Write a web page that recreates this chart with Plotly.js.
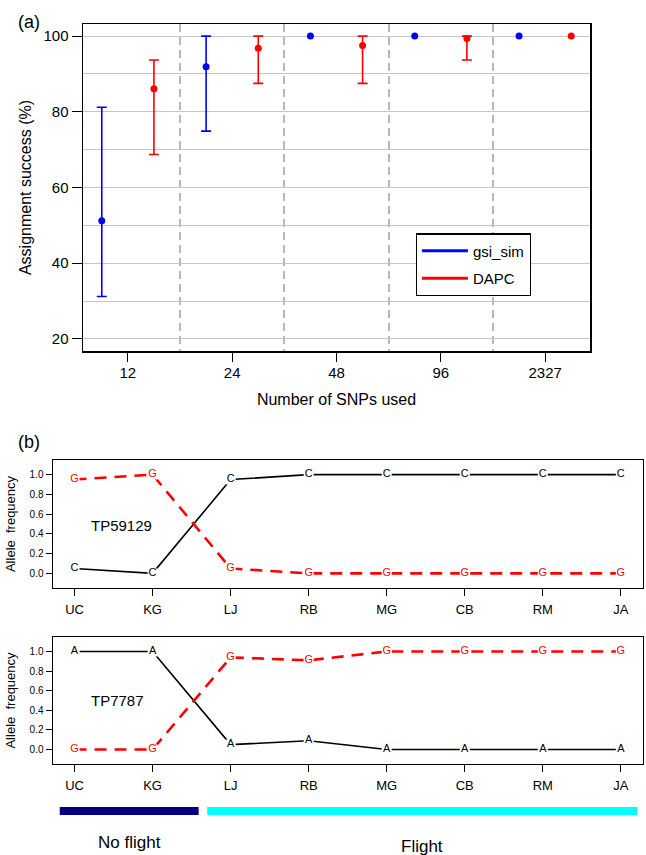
<!DOCTYPE html>
<html>
<head>
<meta charset="utf-8">
<script src="https://cdn.plot.ly/plotly-3.0.1.min.js"></script>
<style>html,body{margin:0;padding:0;background:#fff;}#chart{width:646px;height:855px;}</style>
</head>
<body>
<div id="chart"></div>
<script>
// ---------- Panel (a) data ----------
const snpCounts = ['12', '24', '48', '96', '2327'];
const gsiMean = [51.2, 91.9, 100, 100, 100];
const gsiLow  = [31.2, 74.9, 100, 100, 100];
const gsiHigh = [81.2, 100, 100, 100, 100];
const dapcMean = [86.1, 96.8, 97.5, 99.4, 100];
const dapcLow  = [68.7, 87.5, 87.5, 93.7, 100];
const dapcHigh = [93.7, 100, 100, 100, 100];

// ---------- Panel (b) data ----------
const populations = ['UC', 'KG', 'LJ', 'RB', 'MG', 'CB', 'RM', 'JA'];
const tp59129_C = [0.05, 0.00, 0.95, 1.00, 1.00, 1.00, 1.00, 1.00];
const tp59129_G = [0.95, 1.00, 0.05, 0.00, 0.00, 0.00, 0.00, 0.00];
const tp7787_A  = [1.00, 1.00, 0.05, 0.09, 0.00, 0.00, 0.00, 0.00];
const tp7787_G  = [0.00, 0.00, 0.94, 0.91, 1.00, 1.00, 1.00, 1.00];
const flightGroups = ['No flight', 'Flight'];
const groupMembers = [['UC', 'KG'], ['LJ', 'RB', 'MG', 'CB', 'RM', 'JA']];

const FONT = 'Liberation Sans, Arial, Helvetica, sans-serif';
const W = 646, H = 855;
const px = v => v / W;
const py = v => 1 - v / H;

function errs(mean, lo, hi) {
  const plus = mean.map((m, i) => (hi[i] - m) > 0 ? hi[i] - m : NaN);
  const minus = mean.map((m, i) => (m - lo[i]) > 0 ? m - lo[i] : NaN);
  return {plus, minus};
}
const xIdx = snpCounts.map((_, i) => i + 1);
const ge = errs(gsiMean, gsiLow, gsiHigh);
const de = errs(dapcMean, dapcLow, dapcHigh);

const traces = [];
traces.push({
  x: xIdx.map(v => v - 0.25), y: gsiMean, mode: 'markers', type: 'scatter',
  marker: {color: '#0000FF', size: 7}, showlegend: false, xaxis: 'x', yaxis: 'y',
  error_y: {type: 'data', array: ge.plus, arrayminus: ge.minus, symmetric: false, color: '#0000FF', thickness: 1.6, width: 5}
});
traces.push({
  x: xIdx.map(v => v + 0.25), y: dapcMean, mode: 'markers', type: 'scatter',
  marker: {color: '#FF0000', size: 7}, showlegend: false, xaxis: 'x', yaxis: 'y',
  error_y: {type: 'data', array: de.plus, arrayminus: de.minus, symmetric: false, color: '#FF0000', thickness: 1.6, width: 5}
});
// legend entries
traces.push({x: [null], y: [null], mode: 'lines', name: 'gsi_sim', line: {color: '#0000FF', width: 3}, xaxis: 'x', yaxis: 'y', legendgroup: 'g1'});
traces.push({x: [null], y: [null], mode: 'lines', name: 'DAPC', line: {color: '#FF0000', width: 3}, xaxis: 'x', yaxis: 'y', legendgroup: 'g2'});

function alleleTrace(vals, letter, color, dash, width, xa, ya) {
  return {
    x: populations, y: vals, type: 'scatter', mode: 'lines+markers+text',
    text: vals.map(() => letter), textposition: 'middle center',
    textfont: {family: FONT, size: 11, color: color},
    marker: {symbol: 'square', size: 10, color: '#FFFFFF', line: {width: 0}},
    line: {color: color, width: width, dash: dash},
    showlegend: false, xaxis: xa, yaxis: ya, hoverinfo: 'x+y'
  };
}
traces.push(alleleTrace(tp59129_C, 'C', '#000000', 'solid', 1.6, 'x2', 'y2'));
traces.push(alleleTrace(tp59129_G, 'G', '#FF0000', '12px,8px', 2.6, 'x2', 'y2'));
traces.push(alleleTrace(tp7787_A, 'A', '#000000', 'solid', 1.6, 'x3', 'y3'));
traces.push(alleleTrace(tp7787_G, 'G', '#FF0000', '12px,8px', 2.6, 'x3', 'y3'));

const bTicks = [0, 0.2, 0.4, 0.6, 0.8, 1.0];
function bX(domainTop, domainBottom, anchor) {
  return {
    domain: [px(52.7), px(642.7)], anchor: anchor, type: 'category',
    range: [-0.28, 7.28], showgrid: false, zeroline: false,
    showline: true, mirror: true, linecolor: '#000', linewidth: 1.2,
    ticks: 'outside', ticklen: 7, tickcolor: '#000', tickwidth: 1,
    tickfont: {family: FONT, size: 13, color: '#000'}, ticklabelstandoff: 2
  };
}
function bY(top, bottom, anchor) {
  return {
    domain: [py(bottom), py(top)], anchor: anchor,
    range: [-0.148, 1.148], tickvals: bTicks, ticktext: bTicks.map(v => v.toFixed(1)),
    showgrid: false, zeroline: false,
    showline: true, mirror: true, linecolor: '#000', linewidth: 1.2,
    ticks: 'outside', ticklen: 6, tickcolor: '#000', tickwidth: 1,
    tickfont: {family: FONT, size: 10, color: '#000'},
    title: {text: 'Allele\u00a0\u00a0frequency', font: {family: FONT, size: 13, color: '#000'}, standoff: 11}
  };
}

// flight group bars
const padL = [0.19, 0.30], padR = [0.59, 0.21];
const groupColors = ['#000080', '#00FFFF'];
const shapes = [];
const annotations = [];
flightGroups.forEach((g, k) => {
  const i0 = populations.indexOf(groupMembers[k][0]);
  const i1 = populations.indexOf(groupMembers[k][groupMembers[k].length - 1]);
  const x0 = i0 - padL[k], x1 = i1 + padR[k];
  shapes.push({type: 'line', xref: 'x3', yref: 'paper', x0: x0, x1: x1, y0: py(811), y1: py(811),
    line: {color: groupColors[k], width: 8}});
  annotations.push({xref: 'x3', yref: 'paper', x: (x0 + x1) / 2, y: py(k === 0 ? 842 : 846),
    text: g, showarrow: false, xanchor: 'center', yanchor: 'middle',
    font: {family: FONT, size: 17, color: '#000'}});
});

annotations.push({xref: 'paper', yref: 'paper', x: px(29), y: py(22), text: '(a)', showarrow: false,
  xanchor: 'center', yanchor: 'middle', font: {family: FONT, size: 18, color: '#000'}});
annotations.push({xref: 'paper', yref: 'paper', x: px(29), y: py(442), text: '(b)', showarrow: false,
  xanchor: 'center', yanchor: 'middle', font: {family: FONT, size: 18, color: '#000'}});
annotations.push({xref: 'x2', yref: 'y2', x: 0.19, y: 0.485, text: 'TP59129', showarrow: false,
  xanchor: 'left', yanchor: 'middle', font: {family: FONT, size: 15, color: '#000'}});
annotations.push({xref: 'x3', yref: 'y3', x: 0.19, y: 0.5, text: 'TP7787', showarrow: false,
  xanchor: 'left', yanchor: 'middle', font: {family: FONT, size: 15, color: '#000'}});

const layout = {
  width: W, height: H,
  margin: {l: 0, r: 0, t: 0, b: 0},
  paper_bgcolor: '#fff', plot_bgcolor: '#fff',
  font: {family: FONT, color: '#000'},
  showlegend: true,
  legend: {x: px(415.7), y: py(233.3), xanchor: 'left', yanchor: 'top',
    bordercolor: '#000', borderwidth: 1.2, bgcolor: '#fff',
    font: {family: FONT, size: 15, color: '#000'}, tracegroupgap: 5, itemwidth: 46},
  xaxis: {
    domain: [px(83), px(590)], anchor: 'y', range: [0.57, 5.43],
    tickvals: xIdx, ticktext: snpCounts, showgrid: false, zeroline: false,
    showline: true, mirror: true, linecolor: '#000', linewidth: 1.5,
    ticks: 'outside', ticklen: 9, tickcolor: '#000', tickwidth: 1.2,
    tickfont: {family: FONT, size: 15, color: '#000'}, ticklabelstandoff: -2,
    minor: {tick0: 0.5, dtick: 1, showgrid: true, gridcolor: '#b8b8b8', gridwidth: 2, griddash: '8px,5px', ticks: ''},
    title: {text: 'Number of SNPs used', font: {family: FONT, size: 16, color: '#000'}, standoff: 14}
  },
  yaxis: {
    domain: [py(351), py(24)], anchor: 'x', range: [16.8, 103.2],
    tickvals: [20, 40, 60, 80, 100], showgrid: true, gridcolor: '#c6c6c6', gridwidth: 1, zeroline: false,
    showline: true, mirror: true, linecolor: '#000', linewidth: 1.5,
    ticks: 'outside', ticklen: 10, tickcolor: '#000', tickwidth: 1.2,
    tickfont: {family: FONT, size: 15, color: '#000'},
    minor: {tick0: 0, dtick: 10, showgrid: true, gridcolor: '#c6c6c6', gridwidth: 1, ticks: ''},
    title: {text: 'Assignment success (%)', font: {family: FONT, size: 16, color: '#000'}, standoff: 8}
  },
  xaxis2: bX(460, 588, 'y2'),
  yaxis2: bY(460, 588, 'x2'),
  xaxis3: bX(637, 764, 'y3'),
  yaxis3: bY(637, 764, 'x3'),
  shapes: shapes,
  annotations: annotations
};

Plotly.newPlot('chart', traces, layout, {displayModeBar: false, staticPlot: true});
</script>
</body>
</html>
